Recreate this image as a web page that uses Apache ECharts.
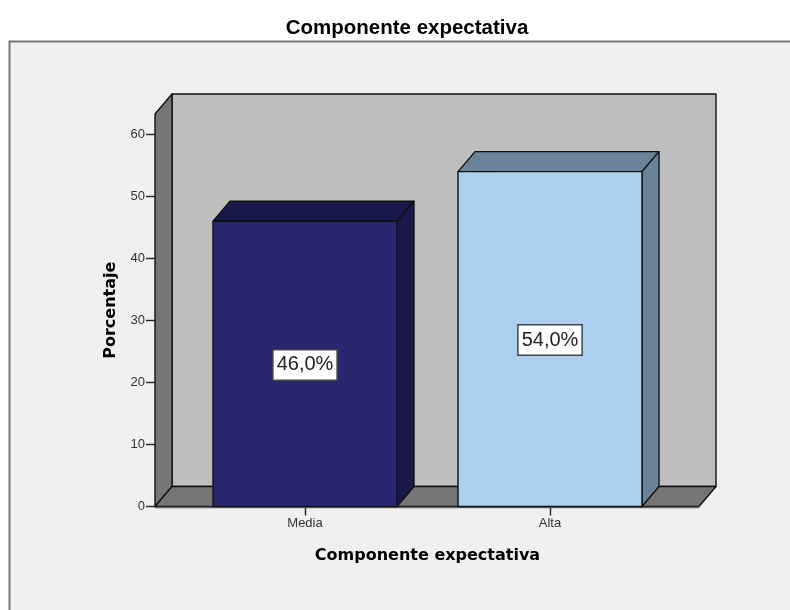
<!DOCTYPE html>
<html>
<head>
<meta charset="utf-8">
<style>
  html, body { margin: 0; padding: 0; background: #fff; }
  #chart { width: 790px; height: 610px; }
</style>
<script src="https://cdn.jsdelivr.net/npm/echarts@6/dist/echarts.min.js"></script>
</head>
<body>
<div id="chart"></div>
<script>
var categories = ['Media', 'Alta']
var values = [46, 54]
var valueLabels = ['46,0%', '54,0%']
var yTicks = [0, 10, 20, 30, 40, 50, 60]
var chartTitle = 'Componente expectativa'
var xName = 'Componente expectativa'
var yName = 'Porcentaje'

var faceColors = ['#27286f', '#acd0ef']
var sideColors = ['#191a4b', '#6b8399']
var DX = 17
var DY = -20
var FLOOR_PAD = 27.5
var BAR_W = 184
var EDGE = '#111'

function poly(points, fill) {
  return {
    type: 'polygon',
    shape: { points: points },
    style: { fill: fill, stroke: EDGE, lineWidth: 1.4, lineJoin: 'round' }
  }
}

var chart = echarts.init(document.getElementById('chart'))
chart.setOption({
  animation: false,
  backgroundColor: '#fff',
  textStyle: { fontFamily: '"Liberation Sans", Arial, sans-serif' },
  title: {
    text: chartTitle,
    left: 402,
    top: 13,
    textAlign: 'center',
    textStyle: { fontSize: 20.5, fontWeight: 'bold', color: '#000', fontFamily: '"Liberation Sans", Arial, sans-serif' }
  },
  graphic: [{
    type: 'rect',
    z: -10,
    silent: true,
    shape: { x: 9.5, y: 41.5, width: 900, height: 700 },
    style: { fill: '#f0f0f0', stroke: '#777', lineWidth: 2 }
  }],
  grid: { left: 182.5, right: 117.5, top: 114, bottom: 103.5 },
  xAxis: {
    type: 'category',
    data: categories,
    name: xName,
    nameLocation: 'middle',
    nameGap: 41,
    nameTextStyle: { fontSize: 16, fontWeight: 'bold', color: '#000', fontFamily: '"DejaVu Sans", sans-serif' },
    axisLine: { show: false },
    axisTick: { show: true, alignWithLabel: true, length: 9, lineStyle: { color: '#222', width: 1.4 } },
    axisLabel: { fontSize: 13, color: '#333', margin: 10 }
  },
  yAxis: {
    type: 'value',
    min: 0,
    max: 63.3,
    offset: FLOOR_PAD,
    name: yName,
    nameLocation: 'middle',
    nameGap: 36,
    nameTextStyle: { fontSize: 16, fontWeight: 'bold', color: '#000', fontFamily: '"DejaVu Sans", sans-serif' },
    splitLine: { show: false },
    axisLine: { show: true, lineStyle: { color: '#333', width: 1 } },
    axisTick: { show: true, length: 9, customValues: yTicks, lineStyle: { color: '#222', width: 1.4 } },
    axisLabel: { fontSize: 13, color: '#333', margin: 10, customValues: yTicks }
  },
  series: [
    {
      // paredes y piso
      type: 'custom',
      silent: true,
      z: 1,
      data: [0],
      renderItem: function (params, api) {
        var g = params.coordSys
        var l = g.x - FLOOR_PAD
        var r = g.x + g.width + FLOOR_PAD - 1
        var t = g.y
        var b = g.y + g.height
        return {
          type: 'group',
          children: [
            poly([[l + DX, t + DY], [r + DX, t + DY], [r + DX, b + DY], [l + DX, b + DY]], '#bebebe'),
            poly([[l, t], [l + DX, t + DY], [l + DX, b + DY], [l, b]], '#767676'),
            poly([[l, b], [l + DX, b + DY], [r + DX, b + DY], [r, b]], '#767676'),
            { type: 'line', shape: { x1: l, y1: b + 1, x2: r, y2: b + 1 }, style: { stroke: '#666', lineWidth: 1.5 } }
          ]
        }
      }
    },
    {
      type: 'custom',
      z: 2,
      data: values.map(function (v, i) { return [i, v] }),
      encode: { x: 0, y: 1 },
      renderItem: function (params, api) {
        var i = params.dataIndex
        var top = api.coord([api.value(0), api.value(1)])
        var base = api.coord([api.value(0), 0])
        var mid = api.coord([api.value(0), api.value(1) / 2])
        var x0 = top[0] - BAR_W / 2
        var x1 = top[0] + BAR_W / 2
        return {
          type: 'group',
          children: [
            poly([[x0, top[1]], [x0 + DX, top[1] + DY], [x1 + DX, top[1] + DY], [x1, top[1]]], sideColors[i]),
            poly([[x1, top[1]], [x1 + DX, top[1] + DY], [x1 + DX, base[1] + DY], [x1, base[1]]], sideColors[i]),
            poly([[x0, top[1]], [x1, top[1]], [x1, base[1]], [x0, base[1]]], faceColors[i]),
            {
              type: 'text',
              z2: 5,
              x: mid[0],
              y: mid[1] + 1,
              style: {
                text: valueLabels[i],
                fill: '#222',
                font: '20px "Liberation Sans", Arial, sans-serif',
                align: 'center',
                verticalAlign: 'middle',
                backgroundColor: '#fff',
                borderColor: '#444',
                borderWidth: 1.5,
                padding: [5, 3, 4, 3]
              }
            }
          ]
        }
      }
    }
  ]
})
</script>
</body>
</html>
